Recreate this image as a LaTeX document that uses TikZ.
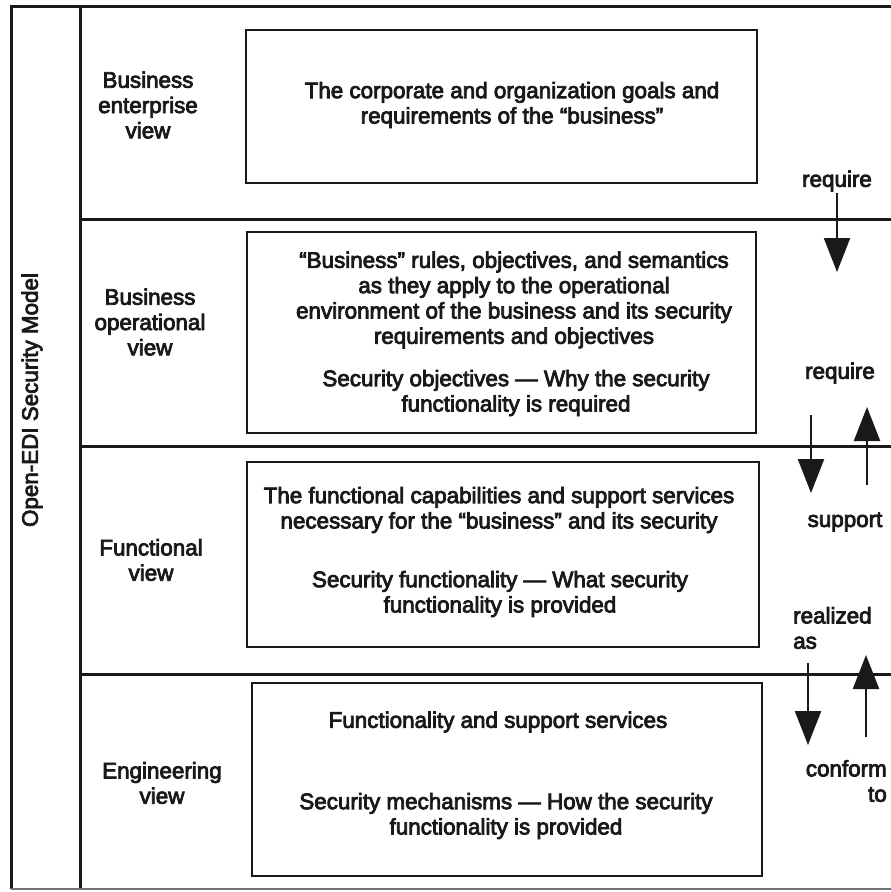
\documentclass[tikz,border=0pt]{standalone}
\usepackage{fontspec}
\setmainfont{Liberation Sans}[FakeBold=3.5]
\usetikzlibrary{arrows.meta}

\tikzset{
  rule/.style={line width=3pt, draw=black!90},
  thinrule/.style={line width=1.6pt, draw=black!55},
  viewbox/.style={draw=black!90, line width=2.8pt, fill=none},
  txt/.style={align=center, inner sep=0pt, text=black!90,
    font=\fontsize{22.4}{25.3}\selectfont},
  flow/.style={line width=2.2pt, draw=black!90,
    -{Triangle[width=26pt,length=34pt]}},
}

\begin{document}
\begin{tikzpicture}[x=1pt, y=-1pt]
\useasboundingbox (0,0) rectangle (891,892);
\fill[white] (0,0) rectangle (891,892);

% frame and layer separators
\draw[rule] (11,6) -- (891,6);
\draw[rule] (11,4.5) -- (11,889);
\draw[rule] (80,6) -- (80,889);
\draw[thinrule] (11,889) -- (891,889);
\draw[rule] (80,219) -- (891,219);
\draw[rule] (80,446) -- (891,446);
\draw[rule] (80,674) -- (891,674);

% vertical title
\node[txt, rotate=90] (model) at (32,400) {Open-EDI Security Model};

% layer names
\node[txt] (l1) at (148,105) {Business\\enterprise\\view};
\node[txt] (l2) at (150,322) {Business\\operational\\view};
\node[txt] (l3) at (151,560) {Functional\\view};
\node[txt] (l4) at (162,783) {Engineering\\view};

% view boxes
\draw[viewbox] (246,30) rectangle (757,183);
\draw[viewbox] (247,232) rectangle (756,433);
\draw[viewbox] (247,462) rectangle (759,647);
\draw[viewbox] (252,683) rectangle (762,876);

% box contents
\node[txt] (t1) at (512,105) {The corporate and organization goals and\\requirements of the “business”};
\node[txt] (t2a) at (514,300) {“Business” rules, objectives, and semantics\\as they apply to the operational\\environment of the business and its security\\requirements and objectives};
\node[txt] (t2b) at (516,393) {Security objectives — Why the security\\functionality is required};
\node[txt] (t3a) at (499,510) {The functional capabilities and support services\\necessary for the “business” and its security};
\node[txt] (t3b) at (500,594) {Security functionality — What security\\functionality is provided};
\node[txt] (t4a) at (498,722) {Functionality and support services};
\node[txt] (t4b) at (506,816) {Security mechanisms — How the security\\functionality is provided};

% relation labels
\node[txt] (r1) at (837,181) {require};
\node[txt] (r2) at (840,373) {require};
\node[txt] (r3) at (845,522) {support};
\node[txt, align=left, anchor=west] (r4) at (793,628) {realized\\as};
\node[txt, align=right, anchor=east] (r5) at (887,781) {conform\\to};

% arrow end points
\coordinate (a1s) at (837,193);  \coordinate (a1e) at (837,272);
\coordinate (a2s) at (811,415);  \coordinate (a2e) at (811,493);
\coordinate (a3s) at (867,485);  \coordinate (a3e) at (867,407);
\coordinate (a4s) at (808,663);  \coordinate (a4e) at (808,745);
\coordinate (a5s) at (866,737);  \coordinate (a5e) at (866,655);

\draw[flow] (a1s) -- (a1e);
\draw[flow] (a2s) -- (a2e);
\draw[flow] (a3s) -- (a3e);
\draw[flow] (a4s) -- (a4e);
\draw[flow] (a5s) -- (a5e);
\end{tikzpicture}
\end{document}
